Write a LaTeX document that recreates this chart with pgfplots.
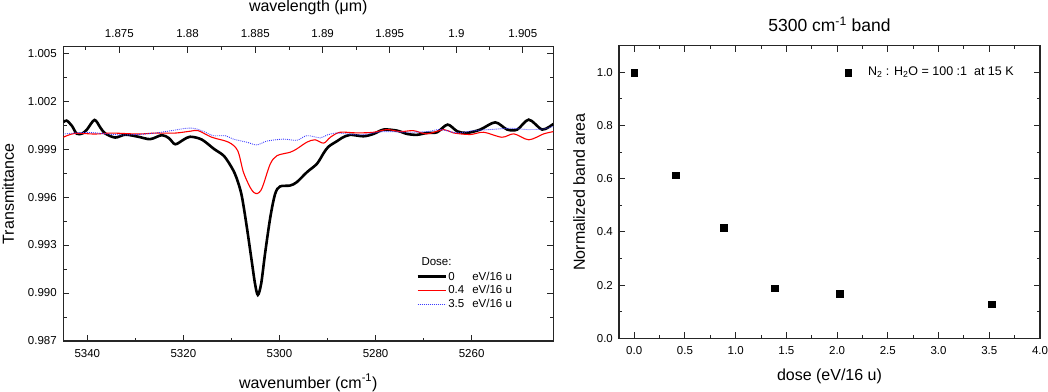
\documentclass[border=0pt]{standalone}
\usepackage{fontspec}
\setmainfont{Liberation Sans}
\usepackage{pgfplots}
\pgfplotsset{compat=1.18}

\definecolor{dotblue}{RGB}{60,60,255}

\pgfplotsset{
  panel/.style={
    scale only axis,
    axis line style={line width=1.1pt, black!85},
    every tick/.style={line width=1pt, black!85},
    major tick length=6pt, minor tick length=3.3pt,
    tick align=inside,
    tick label style={font=\fontsize{11.5}{13}\selectfont},
    label style={font=\fontsize{16}{18}\selectfont},
    /pgf/number format/assume math mode=true,
  },
}

\begin{document}
\begin{tikzpicture}
\useasboundingbox (0,0) rectangle (1048pt,391pt);

% left panel: spectra
\begin{axis}[panel,
  at={(63.3pt,50pt)}, anchor=south west, width=490pt, height=294.3pt,
  x dir=reverse, xmin=5243, xmax=5345, ymin=0.987, ymax=1.0054,
  xtick={5260,5280,5300,5320,5340}, minor x tick num=1, xtick pos=left,
  ytick={0.987,0.990,0.993,0.996,0.999,1.002,1.005}, minor y tick num=1,
  yticklabel style={/pgf/number format/fixed,/pgf/number format/fixed zerofill,
    /pgf/number format/precision=3, xshift=-3pt},
  xticklabel style={/pgf/number format/1000 sep={}, yshift=-4.5pt},
  xlabel={wavenumber (cm\textsuperscript{-1})},
  xlabel style={at={(axis description cs:0.5,-0.1597)}, anchor=base},
  ylabel={Transmittance},
  ylabel style={at={(axis description cs:-0.1006,0.5)}, anchor=base},
  legend style={draw=none, fill=none, at={(0.7198,0.2413)}, anchor=north west,
    inner sep=0pt, row sep=1pt, nodes={inner sep=1.5pt},
    font=\fontsize{11.5}{13}\selectfont},
  legend cell align=left,
  legend image code/.code={\draw[#1] (0pt,0pt) -- (28pt,0pt);},
]
\addplot[black, line width=2.6pt, smooth, tension=0.5] table {
5345.0 1.00068
5344.3 1.00078
5343.2 1.00045
5342.2 0.99996
5341.0 0.99998
5340.0 1.00025
5338.5 1.00082
5337.3 1.00035
5336.3 0.99998
5334.2 0.99972
5332.1 0.99990
5329.4 0.99977
5326.9 0.99962
5324.5 0.99987
5323.0 0.99968
5321.7 0.99930
5320.0 0.99958
5318.6 0.99977
5316.2 0.99960
5313.6 0.99900
5311.5 0.99855
5309.6 0.99766
5308.6 0.99690
5307.8 0.99600
5306.8 0.99413
5305.8 0.99205
5305.1 0.99060
5304.5 0.98988
5303.8 0.99060
5303.0 0.99247
5301.9 0.99475
5300.9 0.99620
5299.9 0.99666
5297.8 0.99672
5296.4 0.99693
5294.3 0.99755
5292.2 0.99808
5290.8 0.99875
5289.8 0.99915
5288.0 0.99950
5287.0 0.99970
5285.3 0.99989
5282.5 0.99980
5280.4 0.99995
5278.3 1.00022
5275.5 1.00015
5273.5 0.99995
5271.4 0.99989
5269.3 1.00001
5267.2 1.00005
5265.0 1.00053
5263.0 1.00011
5261.0 1.00001
5258.2 1.00022
5255.1 1.00067
5252.6 1.00022
5250.5 1.00022
5248.1 1.00084
5245.3 1.00022
5243.0 1.00057
};
\addlegendentry{\makebox[24pt][l]{0}eV/16 u}
\addplot[red, line width=1.1pt, smooth, tension=0.5] table {
5345.0 0.99974
5342.6 0.99998
5338.4 0.99994
5334.9 1.00000
5329.4 0.99994
5325.9 1.00000
5321.7 1.00000
5318.5 1.00012
5316.9 1.00015
5314.1 0.99974
5310.6 0.99943
5308.7 0.99890
5307.5 0.99755
5306.1 0.99660
5305.3 0.99628
5304.6 0.99622
5303.9 0.99640
5303.3 0.99683
5301.9 0.99808
5300.5 0.99859
5297.8 0.99880
5296.4 0.99901
5294.3 0.99943
5292.6 0.99958
5290.8 0.99937
5289.4 0.99974
5287.4 1.00005
5283.9 1.00001
5280.4 1.00005
5277.6 1.00022
5274.9 1.00009
5272.1 1.00015
5269.3 0.99995
5265.8 1.00022
5263.8 1.00001
5260.3 0.99991
5257.5 1.00005
5253.7 0.99974
5251.2 0.99995
5248.1 0.99958
5245.0 0.99995
5243.0 1.00009
};
\addlegendentry{\makebox[24pt][l]{0.4}eV/16 u}
\addplot[dotblue, line width=0.9pt, dash pattern=on 0.9pt off 1.1pt, smooth, tension=0.5] table {
5345.0 0.99994
5339.8 1.00004
5332.8 0.99988
5325.9 1.00000
5318.9 1.00031
5316.2 1.00015
5313.8 0.99984
5311.3 0.99984
5309.6 0.99962
5306.8 0.99943
5304.7 0.99926
5302.6 0.99950
5299.2 0.99962
5296.4 0.99955
5294.3 0.99984
5291.5 0.99970
5290.1 0.99988
5288.0 1.00000
5283.2 0.99989
5278.3 1.00009
5273.5 1.00005
5269.3 1.00009
5266.5 1.00022
5263.0 1.00001
5259.6 1.00015
5256.1 1.00022
5251.9 1.00030
5248.5 1.00022
5245.0 1.00026
5243.0 1.00042
};
\addlegendentry{\makebox[24pt][l]{3.5}eV/16 u}
\node[anchor=base west, font=\fontsize{11.5}{13}\selectfont]
  at (axis description cs:0.7239,0.2576) {Dose:};
\end{axis}

% left panel: wavelength scale on top
\begin{axis}[panel,
  at={(63.3pt,50pt)}, anchor=south west, width=490pt, height=294.3pt,
  x dir=reverse, xmin=5243, xmax=5345, ymin=0, ymax=1,
  axis x line*=top, axis y line=none, xtick align=inside,
  xtick={5333.333,5319.149,5305.040,5291.005,5277.045,5263.158,5249.344},
  xticklabels={1.875,1.88,1.885,1.89,1.895,1.9,1.905},
  minor xtick={5340.454,5326.232,5312.085,5298.013,5284.016,5270.092,5256.242},
  xticklabel style={yshift=6pt},
  xlabel={wavelength (μm)},
  xlabel style={at={(axis description cs:0.5,1.1179)}, anchor=base},
]
\end{axis}

% right panel: band area against dose
\begin{axis}[panel,
  at={(619pt,52.7pt)}, anchor=south west, width=421pt, height=292.6pt,
  xmin=-0.15, xmax=4, ymin=0, ymax=1.1,
  xtick={0,0.5,1,1.5,2,2.5,3,3.5,4}, minor x tick num=1,
  ytick={0,0.2,0.4,0.6,0.8,1.0}, minor y tick num=1,
  xticklabel style={/pgf/number format/fixed,/pgf/number format/fixed zerofill,
    /pgf/number format/precision=1, yshift=-5pt},
  yticklabel style={/pgf/number format/fixed,/pgf/number format/fixed zerofill,
    /pgf/number format/precision=1, xshift=-2.6pt},
  xlabel={dose (eV/16 u)},
  xlabel style={at={(axis description cs:0.5,-0.1425)}, anchor=base},
  ylabel={Normalized band area},
  ylabel style={at={(axis description cs:-0.0808,0.5)}, anchor=base},
  title={5300 cm\textsuperscript{-1} band},
  title style={at={(axis description cs:0.5,1.0478)}, anchor=base, yshift=-6pt,
    font=\fontsize{17.5}{20}\selectfont},
  legend style={draw=none, fill=none, at={(0.536,0.909)}, anchor=west,
    inner sep=0pt, nodes={inner sep=2pt},
    font=\fontsize{12.5}{14}\selectfont},
  legend image code/.code={\draw[#1] plot coordinates {(3pt,0pt)}; \path (0pt,0pt) (20.6pt,0pt);},
]
\addplot[only marks, mark=square*, mark size=3.4pt, black] coordinates {
(0.0,1.0) (0.405,0.613) (0.882,0.416) (1.383,0.188) (2.028,0.168) (3.52,0.128)
};
\addlegendentry{N\textsubscript{2} : H\textsubscript{2}O = 100 :1 \ at 15 K}
\end{axis}
\end{tikzpicture}
\end{document}
